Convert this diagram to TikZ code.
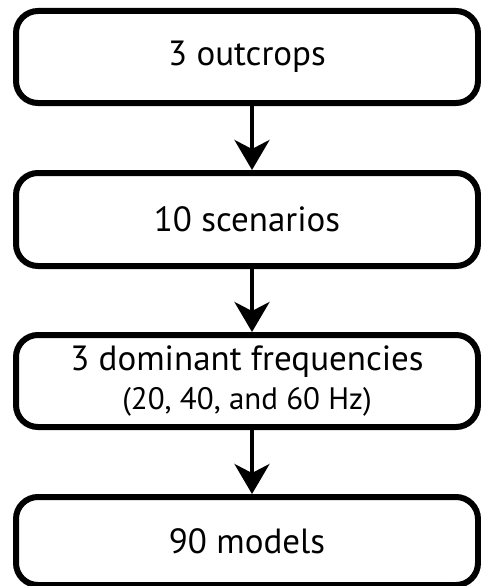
\documentclass[tikz,border=0pt]{standalone}
\usepackage{fontspec}
\setmainfont{PT Sans}
\usetikzlibrary{arrows.meta}
\tikzset{every node/.style={inner sep=0pt}, 
  stage/.style={draw, line width=6pt, rounded corners=22pt, minimum width=462pt, font=\fontsize{35}{39}\selectfont},
  flow/.style={line width=4pt, -{Stealth[length=30pt,width=35pt,inset=9pt]}}}

\begin{document}
\begin{tikzpicture}[x=1pt,y=1pt]
   \useasboundingbox (0,0) rectangle (481,-586);
   \node[stage, minimum height=92pt] (outcrops) at (247,-57) {3 outcrops};
   \node[stage, minimum height=93pt] (scenarios) at (247,-219.5) {10 scenarios};
   \node[stage, minimum height=92pt, align=center] (freqs) at (247,-381)
        {3 dominant frequencies\\{\fontsize{31}{39}\selectfont (20, 40, and 60 Hz)}};
   \node[stage, minimum height=88pt] (models) at (247,-541) {90 models};
   \draw[flow] ([xshift=5pt]outcrops.south) -- ([xshift=5pt]scenarios.north);
   \draw[flow] ([xshift=5pt]scenarios.south) -- ([xshift=5pt]freqs.north);
   \draw[flow] ([xshift=5pt]freqs.south) -- ([xshift=5pt]models.north);
  \end{tikzpicture}
\end{document}
